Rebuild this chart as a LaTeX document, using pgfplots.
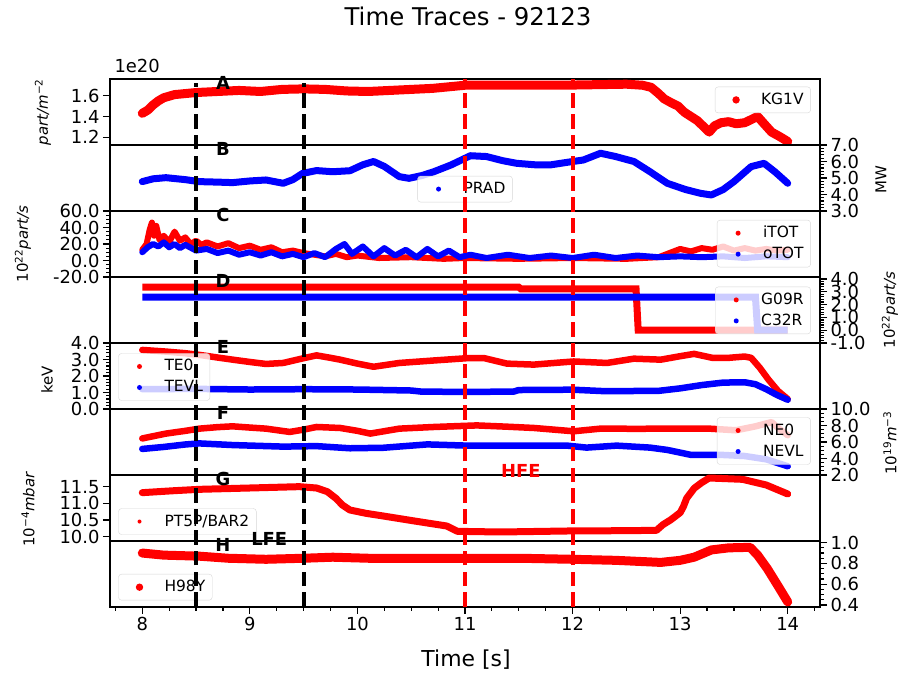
\documentclass[border=0pt]{standalone}
\usepackage{pgfplots}
\pgfplotsset{compat=1.18}
\usepackage{fontspec}
\setmainfont{DejaVu Sans}
\newcommand{\fs}[1]{\fontsize{#1}{#1}\selectfont}
\pgfplotsset{
  panel/.style={scale only axis, width=710bp, height=66bp, xmin=7.7, xmax=14.3, xtick=\empty,
    axis line style={line width=1.2bp}, tick style={black, line width=1.2bp},
    major tick length=7bp, minor tick length=4bp, tick align=outside,
    yticklabel style={font=\fs{18}}, xticklabel style={font=\fs{18}},
    legend style={font=\fs{15.5}, draw=black!20, fill=white, fill opacity=0.8, draw opacity=0.8,
      text opacity=1, rounded corners=3bp, inner xsep=5bp, inner ysep=4.5bp, row sep=4bp,
      nodes={inner sep=2bp, text height=11bp, text depth=2bp}},
    legend cell align=left},
  dotleg/.style={legend image code/.code={\path[draw=none,fill=none] (0bp,-4bp) rectangle (39bp,4bp);
      \fill[draw=none, fill opacity=1] (16bp,0bp) circle (#1);}},
  sr/.style={red, line width=#1, line join=round, line cap=round},
  sb/.style={blue, line width=#1, line join=round, line cap=round},
}
\begin{document}
\begin{tikzpicture}
\useasboundingbox (0,0) rectangle (902bp,674bp);
% A
\begin{axis}[panel, at={(110bp,595bp)}, anchor=north west, ymin=1.126, ymax=1.76,
  ytick={1.2,1.4,1.6}, yticklabels={1.2,1.4,1.6}, ytick pos=left, yticklabel pos=left,
  legend style={at={(0.987,0.883)}, anchor=north east}, dotleg=3.7bp]
\addplot[sr=9bp] coordinates {(8.0,1.43)(8.05,1.46)(8.1,1.51)(8.15,1.55)(8.2,1.58)(8.3,1.61)(8.4,1.62)(8.5,1.63)(8.7,1.64)(8.9,1.65)(9.1,1.64)(9.3,1.66)(9.5,1.665)(9.7,1.66)(9.9,1.645)(10.1,1.64)(10.3,1.65)(10.5,1.66)(10.7,1.67)(10.9,1.69)(11.0,1.70)(11.3,1.70)(11.6,1.70)(11.9,1.70)(12.2,1.705)(12.5,1.71)(12.65,1.70)(12.73,1.68)(12.8,1.62)(12.85,1.57)(12.92,1.53)(12.98,1.50)(13.04,1.44)(13.1,1.40)(13.16,1.36)(13.22,1.30)(13.27,1.25)(13.32,1.31)(13.38,1.34)(13.45,1.35)(13.52,1.33)(13.6,1.34)(13.68,1.38)(13.72,1.40)(13.78,1.33)(13.85,1.25)(13.92,1.21)(14.0,1.16)};
\addlegendentry{KG1V}
\end{axis}
% B
\begin{axis}[panel, at={(110bp,529bp)}, anchor=north west, ymin=3, ymax=7,
  ytick={3,4,5,6,7}, yticklabels={3.0,4.0,5.0,6.0,7.0}, minor ytick={3.2,3.4,...,6.9},
  ytick pos=right, yticklabel pos=right,
  legend style={at={(0.5,0.132)}, anchor=south}, dotleg=2.5bp]
\addplot[sb=7bp] coordinates {(8.0,4.78)(8.1,4.95)(8.22,5.02)(8.4,4.9)(8.53,4.78)(8.7,4.75)(8.84,4.72)(9.0,4.82)(9.15,4.88)(9.31,4.68)(9.4,4.9)(9.49,5.28)(9.62,5.45)(9.77,5.38)(9.93,5.44)(10.05,5.8)(10.15,6.0)(10.25,5.7)(10.39,5.08)(10.48,4.98)(10.6,5.15)(10.71,5.38)(10.87,5.79)(11.05,6.35)(11.2,6.3)(11.35,6.05)(11.48,5.89)(11.65,5.8)(11.79,5.79)(11.95,5.95)(12.1,6.09)(12.26,6.5)(12.4,6.3)(12.57,6.0)(12.72,5.38)(12.88,4.68)(13.05,4.3)(13.19,4.07)(13.29,3.97)(13.4,4.3)(13.5,4.78)(13.6,5.35)(13.66,5.69)(13.78,5.89)(13.88,5.38)(14.0,4.68)};
\addlegendentry{PRAD}
\end{axis}
% C
\begin{axis}[panel, at={(110bp,463bp)}, anchor=north west, ymin=-20, ymax=60,
  ytick={-20,0,20,40,60}, yticklabels={-20.0,0.0,20.0,40.0,60.0}, minor ytick={-15,-10,...,55},
  ytick pos=left, yticklabel pos=left,
  legend style={at={(0.987,0.864)}, anchor=north east}, dotleg=2.5bp]
\addplot[sr=6bp] coordinates {(8.0,13)(8.04,20)(8.07,38)(8.09,46)(8.11,30)(8.13,42)(8.16,25)(8.2,30)(8.25,22)(8.3,35)(8.35,24)(8.4,28)(8.45,20)(8.5,24)(8.55,19)(8.6,22)(8.7,17)(8.8,21)(8.9,15)(9.0,18)(9.1,13)(9.2,16)(9.3,10)(9.4,12)(9.5,9)(9.6,7)(9.7,5)(9.8,8)(9.9,4)(10.0,6)(10.2,3)(10.5,4)(10.8,2)(11.0,3)(11.5,2)(12.0,3)(12.5,2)(12.8,4)(12.9,9)(13.0,14)(13.1,11)(13.2,15)(13.3,13)(13.4,17)(13.5,12)(13.6,15)(13.7,12)(13.8,14)(13.9,12)(14.0,13)};
\addlegendentry{iTOT}
\addplot[sb=6bp] coordinates {(8.0,10)(8.05,16)(8.1,20)(8.15,17)(8.2,22)(8.25,16)(8.3,20)(8.35,15)(8.4,19)(8.5,12)(8.6,14)(8.7,9)(8.8,12)(8.9,7)(9.0,10)(9.1,6)(9.2,10)(9.3,5)(9.4,8)(9.5,4)(9.6,9)(9.7,4)(9.8,14)(9.88,20)(9.95,8)(10.05,17)(10.15,5)(10.25,15)(10.35,6)(10.45,13)(10.55,4)(10.65,14)(10.75,5)(10.85,12)(10.95,4)(11.05,7)(11.2,3)(11.4,7)(11.6,3)(11.8,6)(12.0,3)(12.2,7)(12.4,3)(12.6,6)(12.8,4)(13.0,5)(13.2,4)(13.4,5)(13.6,3)(13.8,5)(14.0,4)};
\addlegendentry{oTOT}
\end{axis}
% D
\begin{axis}[panel, at={(110bp,397bp)}, anchor=north west, ymin=-1, ymax=4.15,
  ytick={-1,0,1,2,3,4}, yticklabels={-1.0,0.0,1.0,2.0,3.0,4.0}, minor ytick={-0.8,-0.6,...,4.0},
  ytick pos=right, yticklabel pos=right,
  legend style={at={(0.987,0.853)}, anchor=north east}, dotleg=2.5bp]
\addplot[sr=7bp, line join=miter, line cap=butt] coordinates {(8.0,3.35)(11.5,3.35)(11.52,3.22)(12.59,3.22)(12.61,0)(14.0,0)};
\addlegendentry{G09R}
\addplot[sb=7bp, line join=miter, line cap=butt] coordinates {(8.0,2.57)(13.7,2.57)(13.72,0)(14.0,0)};
\addlegendentry{C32R}
\end{axis}
% E
\begin{axis}[panel, at={(110bp,331bp)}, anchor=north west, ymin=0, ymax=4,
  ytick={0,1,2,3,4}, yticklabels={0.0,1.0,2.0,3.0,4.0}, minor ytick={0.2,0.4,...,3.9},
  ytick pos=left, yticklabel pos=left,
  legend style={at={(0.0117,0.844)}, anchor=north west}, dotleg=2.5bp]
\addplot[sr=6.5bp] coordinates {(8.0,3.58)(8.22,3.48)(8.4,3.38)(8.53,3.28)(8.7,3.12)(8.84,2.99)(9.0,2.85)(9.15,2.73)(9.31,2.79)(9.5,3.08)(9.62,3.25)(9.75,3.1)(9.84,2.99)(10.0,2.75)(10.15,2.56)(10.39,2.79)(10.71,2.94)(11.02,3.08)(11.18,3.08)(11.39,2.75)(11.64,2.69)(11.85,2.8)(12.01,2.88)(12.32,2.79)(12.57,3.05)(12.82,2.99)(13.0,3.2)(13.13,3.34)(13.3,3.1)(13.45,3.1)(13.6,3.18)(13.66,3.1)(13.74,2.5)(13.82,1.79)(13.91,1.09)(14.0,0.6)};
\addlegendentry{TE0}
\addplot[sb=6.5bp] coordinates {(8.0,1.2)(8.5,1.22)(9.0,1.18)(9.5,1.2)(10.0,1.18)(10.5,1.12)(10.6,1.05)(11.0,1.04)(11.45,1.05)(11.5,1.15)(12.0,1.17)(12.3,1.08)(12.8,1.1)(13.0,1.25)(13.2,1.45)(13.4,1.6)(13.6,1.62)(13.7,1.5)(13.8,1.2)(13.9,0.85)(14.0,0.56)};
\addlegendentry{TEVL}
\end{axis}
% F
\begin{axis}[panel, at={(110bp,265bp)}, anchor=north west, ymin=2, ymax=10,
  ytick={2,4,6,8,10}, yticklabels={2.0,4.0,6.0,8.0,10.0}, minor ytick={2.5,3,...,9.5},
  ytick pos=right, yticklabel pos=right,
  legend style={at={(0.987,0.874)}, anchor=north east}, dotleg=2.5bp]
\addplot[sr=6.5bp] coordinates {(8.0,6.43)(8.22,7.02)(8.4,7.35)(8.53,7.62)(8.7,7.8)(8.84,7.9)(9.0,7.75)(9.15,7.62)(9.37,7.22)(9.5,7.5)(9.62,7.82)(9.84,7.7)(10.0,7.35)(10.12,7.02)(10.39,7.62)(10.71,7.82)(11.11,8.01)(11.4,7.85)(11.64,7.7)(12.01,7.3)(12.26,7.62)(12.6,7.6)(12.88,7.62)(13.27,7.62)(13.52,7.42)(13.7,7.9)(13.85,8.41)(13.92,7.6)(14.0,6.82)};
\addlegendentry{NE0}
\addplot[sb=6.5bp] coordinates {(8.0,5.16)(8.2,5.4)(8.4,5.7)(8.53,5.83)(8.84,5.63)(9.31,5.44)(9.62,5.5)(9.93,5.24)(10.24,5.3)(10.65,5.71)(11.02,5.56)(11.5,5.56)(11.95,5.56)(12.13,5.32)(12.41,5.56)(12.72,5.32)(12.88,5.04)(13.1,4.44)(13.38,4.44)(13.6,4.3)(13.8,3.9)(14.0,3.06)};
\addlegendentry{NEVL}
\end{axis}
% G
\begin{axis}[panel, at={(110bp,199bp)}, anchor=north west, ymin=9.87, ymax=11.85,
  ytick={10,10.5,11,11.5}, yticklabels={10.0,10.5,11.0,11.5},
  ytick pos=left, yticklabel pos=left,
  legend style={at={(0.0117,0.495)}, anchor=north west}, dotleg=2bp]
\addplot[sr=7bp] coordinates {(8.0,11.32)(8.3,11.38)(8.53,11.42)(9.0,11.46)(9.46,11.5)(9.62,11.46)(9.72,11.35)(9.8,11.15)(9.86,10.95)(9.93,10.8)(10.08,10.7)(10.24,10.62)(10.55,10.46)(10.83,10.32)(10.93,10.16)(11.33,10.14)(11.95,10.17)(12.5,10.18)(12.78,10.19)(12.84,10.36)(12.91,10.5)(13.0,10.72)(13.03,10.9)(13.06,11.15)(13.13,11.45)(13.2,11.62)(13.27,11.76)(13.58,11.72)(13.8,11.55)(14.0,11.28)};
\addlegendentry{PT5P/BAR2}
\end{axis}
% H
\begin{axis}[panel, at={(110bp,133bp)}, anchor=north west, ymin=0.381, ymax=1.016,
  ytick={0.4,0.6,0.8,1.0}, yticklabels={0.4,0.6,0.8,1.0}, minor ytick={0.4,0.45,...,1.0},
  ytick pos=right, yticklabel pos=right,
  xtick={8,9,10,11,12,13,14}, xticklabels={8,9,10,11,12,13,14}, minor xtick={7.75,8,...,14.25},
  xtick pos=left, xticklabel pos=left,
  legend style={at={(0.0117,0.5)}, anchor=north west}, dotleg=3.7bp]
\addplot[sr=9bp] coordinates {(8.0,0.9)(8.2,0.88)(8.53,0.87)(8.8,0.85)(9.15,0.84)(9.5,0.85)(9.77,0.86)(10.1,0.85)(10.5,0.85)(11.0,0.85)(11.5,0.85)(12.0,0.84)(12.4,0.83)(12.82,0.81)(13.0,0.83)(13.13,0.86)(13.29,0.93)(13.45,0.95)(13.65,0.955)(13.72,0.88)(13.81,0.75)(13.9,0.6)(14.0,0.43)};
\addlegendentry{H98Y}
\end{axis}
% overlay
\begin{axis}[at={(110bp,595bp)}, anchor=north west, scale only axis, width=710bp, height=528bp,
  xmin=7.7, xmax=14.3, ymin=0, ymax=1, hide axis, clip=false]
\addplot[black, line width=3.9bp, dash pattern=on 14.5bp off 6.3bp] coordinates {(8.5,0)(8.5,0.992)};
\addplot[black, line width=3.9bp, dash pattern=on 14.5bp off 6.3bp] coordinates {(9.5,0)(9.5,0.992)};
\addplot[red, line width=3.9bp, dash pattern=on 14.5bp off 6.3bp] coordinates {(11,0)(11,1)};
\addplot[red, line width=3.9bp, dash pattern=on 14.5bp off 6.3bp] coordinates {(12,0)(12,1)};
\node[font=\bfseries\fs{18}] at (axis cs:8.75,0.9919) {A};
\node[font=\bfseries\fs{18}] at (axis cs:8.75,0.8669) {B};
\node[font=\bfseries\fs{18}] at (axis cs:8.75,0.7419) {C};
\node[font=\bfseries\fs{18}] at (axis cs:8.75,0.6169) {D};
\node[font=\bfseries\fs{18}] at (axis cs:8.75,0.4919) {E};
\node[font=\bfseries\fs{18}] at (axis cs:8.75,0.3669) {F};
\node[font=\bfseries\fs{18}] at (axis cs:8.75,0.2419) {G};
\node[font=\bfseries\fs{18}] at (axis cs:8.75,0.1169) {H};
\node[font=\bfseries\fs{18}] at (axis cs:9.18,0.1288) {LFE};
\node[font=\bfseries\fs{18}, red] at (axis cs:11.52,0.2576) {HFE};
\end{axis}
% labels
\node[rotate=90, font=\fs{15}] at (43bp,562bp) {\textit{part/m}\textsuperscript{−2}};
\node[rotate=90, font=\fs{15}] at (23bp,430bp) {10\textsuperscript{22}\textit{part/s}};
\node[rotate=90, font=\fs{15}] at (47bp,294bp) {keV};
\node[rotate=90, font=\fs{15}] at (28bp,165bp) {10\textsuperscript{−4}\textit{mbar}};
\node[rotate=90, font=\fs{15}] at (881bp,494bp) {MW};
\node[rotate=90, font=\fs{15}] at (890bp,364bp) {10\textsuperscript{22}\textit{part/s}};
\node[rotate=90, font=\fs{15}] at (890bp,231bp) {10\textsuperscript{19}\textit{m}\textsuperscript{−3}};
\node[font=\fs{18}, anchor=base west] at (111bp,601bp) {1e20};
\node[font=\fs{24.5}, anchor=base] at (468bp,648bp) {Time Traces - 92123};
\node[font=\fs{22}, anchor=base] at (466bp,8bp) {Time [s]};
\end{tikzpicture}
\end{document}
